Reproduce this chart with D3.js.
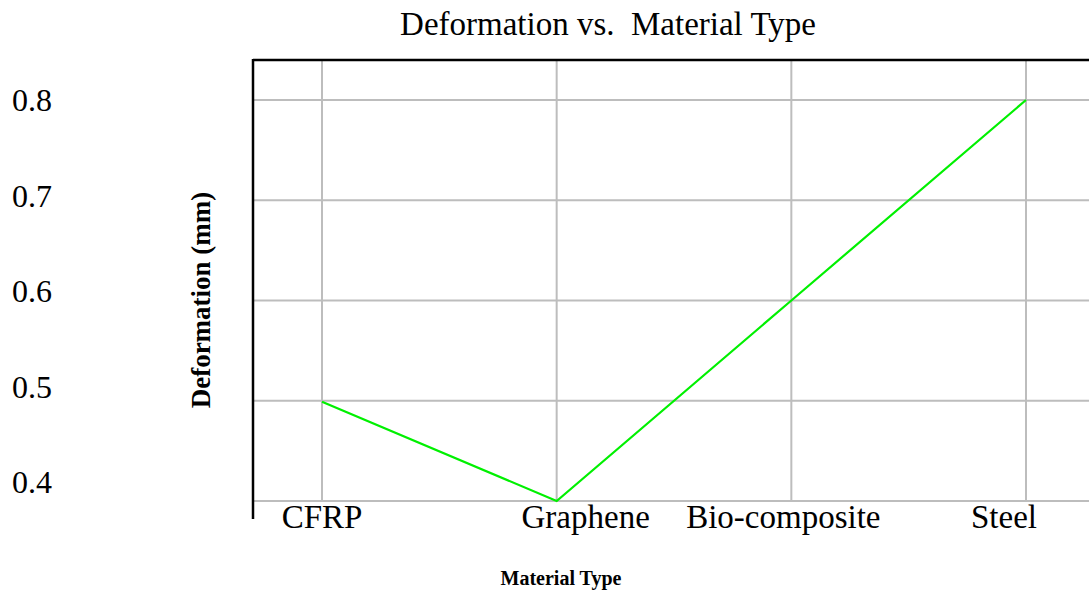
<!DOCTYPE html>
<html>
<head>
<meta charset="utf-8">
<script src="https://cdn.jsdelivr.net/npm/d3@7"></script>
<style>
  html, body { margin: 0; padding: 0; background: #fff; }
  svg { display: block; }
  text { font-family: "Liberation Serif", "Times New Roman", serif; fill: #000; }
</style>
</head>
<body>
<svg id="chart" width="1089" height="595"></svg>
<script>
// ---- data ----
const categories = ["CFRP", "Graphene", "Bio-composite", "Steel"];
const deformation = [0.499, 0.40, 0.60, 0.80];
const yTicks = [0.4, 0.5, 0.6, 0.7, 0.8];
const yTickLabels = ["0.4", "0.5", "0.6", "0.7", "0.8"];
const titleText = "Deformation vs.\u00a0 Material Type";
const xTitle = "Material Type";
const yTitle = "Deformation (mm)";
// label nudges (styling only)
const xLabelDx = [0, 29, -8, -22];

(function () {
const svg = d3.select("#chart");
const mLeft = 253, mRight = 1089, mTop = 60, plotBottom = 501, axisBottom = 519;

const x = d3.scalePoint().domain(categories).range([322, 1026]);
const y = d3.scaleLinear().domain([0.4, 0.8]).range([plotBottom, 100]);
const yLab = d3.scaleLinear().domain([0.4, 0.8]).range([493, 111]);

// gridlines
const grid = svg.append("g").attr("stroke", "#bdbdbd").attr("stroke-width", 2);
grid.selectAll("line.h").data(yTicks).enter().append("line")
  .attr("x1", mLeft).attr("x2", mRight)
  .attr("y1", d => y(d)).attr("y2", d => y(d));
grid.selectAll("line.v").data(categories).enter().append("line")
  .attr("x1", d => x(d)).attr("x2", d => x(d))
  .attr("y1", mTop).attr("y2", plotBottom);

// frame: top + left
svg.append("line").attr("x1", mLeft).attr("x2", mRight).attr("y1", mTop).attr("y2", mTop)
  .attr("stroke", "#000").attr("stroke-width", 2.5);
svg.append("line").attr("x1", mLeft).attr("x2", mLeft).attr("y1", mTop - 1).attr("y2", axisBottom)
  .attr("stroke", "#000").attr("stroke-width", 2.5);

// line
const line = d3.line().x((d, i) => x(categories[i])).y(d => y(d));
svg.append("path").datum(deformation)
  .attr("d", line).attr("fill", "none")
  .attr("stroke", "#00f000").attr("stroke-width", 2.2);

// y tick labels
svg.append("g").selectAll("text").data(yTicks).enter().append("text")
  .attr("x", 12).attr("y", d => yLab(d))
  .attr("font-size", 32)
  .text((d, i) => yTickLabels[i]);

// x tick labels
svg.append("g").selectAll("text").data(categories).enter().append("text")
  .attr("x", (d, i) => x(d) + xLabelDx[i]).attr("y", 528)
  .attr("text-anchor", "middle").attr("font-size", 33)
  .text(d => d);

// title
svg.append("text").attr("x", 608).attr("y", 35).attr("text-anchor", "middle")
  .attr("font-size", 33).text(titleText);

// axis titles
svg.append("text").attr("x", 561).attr("y", 585).attr("text-anchor", "middle")
  .attr("font-size", 20).attr("font-weight", "bold").text(xTitle);
svg.append("text").attr("transform", "translate(210,300) rotate(-90)")
  .attr("text-anchor", "middle").attr("font-size", 27).attr("font-weight", "bold")
  .text(yTitle);
})();
</script>
</body>
</html>
